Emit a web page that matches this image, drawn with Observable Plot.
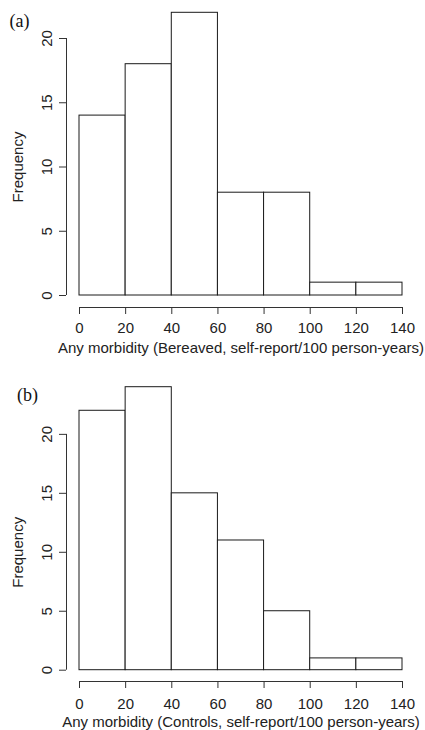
<!DOCTYPE html>
<html>
<head>
<meta charset="utf-8">
<script src="https://cdn.jsdelivr.net/npm/d3@7"></script>
<script src="https://cdn.jsdelivr.net/npm/@observablehq/plot@0.6"></script>
<style>
  html, body { margin: 0; padding: 0; background: white; }
  #chart svg { display: block; }
</style>
</head>
<body>
<div id="chart"></div>
<script>
const binEdges = [0, 20, 40, 60, 80, 100, 120, 140];
const bereavedCounts = [14, 18, 22, 8, 8, 1, 1];
const controlsCounts = [22, 24, 15, 11, 5, 1, 1];
const xTicks = [0, 20, 40, 60, 80, 100, 120, 140];
const yTicks = [0, 5, 10, 15, 20];
const panels = [
  {tag: "(a)", label: "Any morbidity (Bereaved, self-report/100 person-years)", counts: bereavedCounts,
   yMax: 22, height: 360, marginTop: 12.3, marginBottom: 65, axisGap: 12, pad: 8, labelDy: 52.5, tagDx: -60, tagDy: 8.7},
  {tag: "(b)", label: "Any morbidity (Controls, self-report/100 person-years)", counts: controlsCounts,
   yMax: 24, height: 370, marginTop: 26.7, marginBottom: 60.3, axisGap: 11.3, pad: 10, labelDy: 52, tagDx: -52, tagDy: 8.3}
];

const container = document.getElementById("chart");
const yMid = (yTicks[0] + yTicks[yTicks.length - 1]) / 2;

for (const p of panels) {
  const bins = p.counts.map((c, i) => ({x0: binEdges[i], x1: binEdges[i + 1], count: c}));
  const chart = Plot.plot({
    width: 425,
    height: p.height,
    marginLeft: 79,
    marginRight: 23,
    marginTop: p.marginTop,
    marginBottom: p.marginBottom,
    style: {fontFamily: "'Liberation Sans', Arial, Helvetica, sans-serif", fontSize: "15px", color: "#222", background: "white"},
    x: {domain: [xTicks[0], xTicks[xTicks.length - 1]]},
    y: {domain: [0, p.yMax]},
    marks: [
      Plot.rectY(bins, {x1: "x0", x2: "x1", y: "count", fill: "white", stroke: "#1a1a1a", strokeWidth: 1, inset: 0}),
      Plot.ruleY([0], {x1: xTicks[0], x2: xTicks[xTicks.length - 1], dy: p.axisGap, stroke: "#333"}),
      Plot.axisX({ticks: xTicks, tickSize: 7, tickPadding: p.pad, dy: p.axisGap, label: null, stroke: "#333", fontSize: 15}),
      Plot.ruleX([0], {y1: yTicks[0], y2: yTicks[yTicks.length - 1], dx: -13, stroke: "#333"}),
      Plot.axisY({ticks: yTicks, tickSize: 7, dx: -13, tickFormat: () => "", label: null, stroke: "#333"}),
      Plot.text(yTicks, {y: d => d, text: d => String(d), frameAnchor: "left", dx: -32, rotate: -90,
        textAnchor: "middle", lineAnchor: "middle", fill: "#222", fontSize: 15}),
      Plot.text(["Frequency"], {y: () => yMid, text: d => d, frameAnchor: "left", dx: -61, rotate: -90,
        textAnchor: "middle", lineAnchor: "middle", fill: "#222", fontSize: 15}),
      Plot.text([p.label], {text: d => d, frameAnchor: "bottom", dy: p.labelDy, lineAnchor: "middle",
        textAnchor: "middle", fill: "#222", fontSize: 15}),
      Plot.text([p.tag], {text: d => d, frameAnchor: "top-left", dx: p.tagDx, dy: p.tagDy, lineAnchor: "middle",
        textAnchor: "middle", fontFamily: "'Liberation Serif', 'Times New Roman', serif", fontSize: 18, fill: "#111"})
    ]
  });
  container.appendChild(chart);
}
</script>
</body>
</html>
